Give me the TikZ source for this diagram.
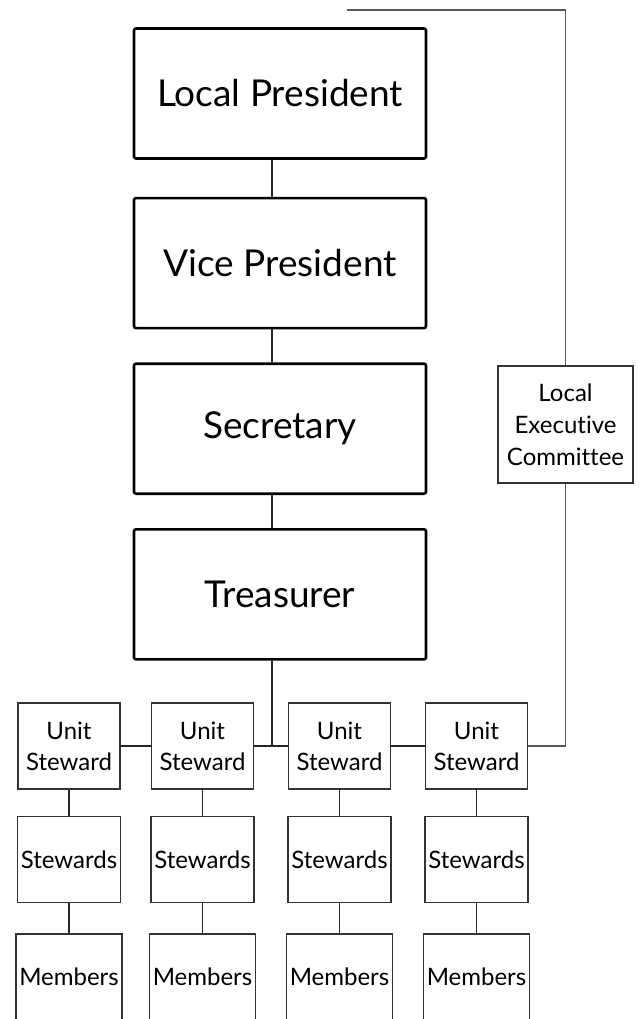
\documentclass[tikz,border=0pt]{standalone}
\usepackage{fontspec}
\setmainfont{Lato}[Ligatures={NoCommon,NoRare}]
\usetikzlibrary{positioning}
\tikzset{
    officebox/.style={rectangle, draw=black, line width=2.6pt, rounded corners=2pt, minimum width=292pt, minimum height=130pt, font=\fontsize{37}{44}\selectfont},
    unitbox/.style={rectangle, draw=black!80, line width=1.6pt, minimum width=102pt, minimum height=86pt, align=center, font=\fontsize{24}{31}\selectfont},
    link/.style={line width=1.3pt, black!85},
    greylink/.style={line width=1.3pt, black!65},
}

\begin{document}
\begin{tikzpicture}[x=1pt, y=-1pt]
\useasboundingbox (0,0) rectangle (639,1019);

% Officers
\node[officebox] (president) at (280,93.5) {Local President};
\node[officebox, below=37pt of president] (vice) {Vice President};
\node[officebox, below=33pt of vice] (secretary) {Secretary};
\node[officebox, below=33pt of secretary] (treasurer) {Treasurer};

% Executive committee
\node[unitbox, minimum width=135pt, minimum height=117pt, font=\fontsize{24}{32}\selectfont] (committee) at (565.5,424.5) {Local\\Executive\\Committee};

% Units
\foreach \i/\x in {1/69, 2/202.5, 3/339.5, 4/476.5} {
    \node[unitbox] (unit\i) at (\x,746) {Unit\\Steward};
    \node[unitbox, below=26pt of unit\i] (stewards\i) {Stewards};
    \node[unitbox, below=30pt of stewards\i] (members\i) {Members};
    \draw[link] (unit\i) -- (stewards\i);
    \draw[link] (stewards\i) -- (members\i);
}

% Connectors
\draw[link] ([xshift=-8pt]president.south) -- ([xshift=-8pt]vice.north);
\draw[link] ([xshift=-8pt]vice.south) -- ([xshift=-8pt]secretary.north);
\draw[link] ([xshift=-8pt]secretary.south) -- ([xshift=-8pt]treasurer.north);
\coordinate (drop) at ([xshift=-8pt]treasurer.south);
\draw[link] (drop) -- (drop |- unit2.east);
\draw[link] (unit1.east) -- (unit2.west);
\draw[link] (unit2.east) -- (unit3.west);
\draw[link] (unit3.east) -- (unit4.west);

% Committee lines
\coordinate (topend) at (347,10);
\draw[greylink] (committee.north) |- (topend);
\draw[greylink] (committee.south) |- (unit4.east);

\end{tikzpicture}
\end{document}
